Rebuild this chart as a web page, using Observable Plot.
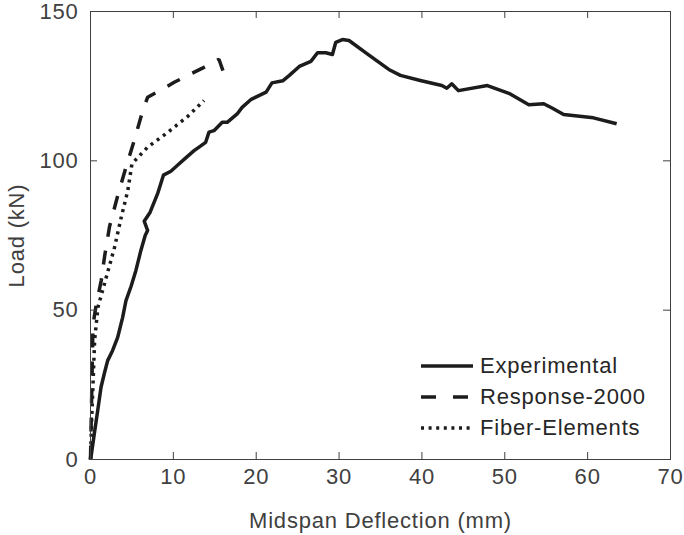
<!DOCTYPE html>
<html>
<head>
<meta charset="utf-8">
<script src="https://cdn.jsdelivr.net/npm/d3@7"></script>
<script src="https://cdn.jsdelivr.net/npm/@observablehq/plot@0.6"></script>
<style>
  html, body { margin: 0; padding: 0; background: #fff; }
  #wrap { position: relative; width: 684px; height: 535px; }
  #legend { position: absolute; left: 421px; top: 350px; font-family: "Liberation Sans", Arial, sans-serif; font-size: 22px; letter-spacing: 0.8px; color: #262626; }
  .row { display: flex; align-items: center; height: 31px; }
  .row svg { width: 52px; height: 10px; margin-right: 7px; }
</style>
</head>
<body>
<div id="wrap"></div>
<script>
// Experimental
const expX = [0, 0.06, 0.46, 0.87, 1.27, 1.66, 2.07, 2.67, 3.28, 3.88, 4.28, 4.9, 5.48, 6.08, 6.6, 6.89, 6.48, 7.2, 8.1, 8.8, 9.7, 10.5, 11.5, 12.5, 13.1, 13.9, 14.3, 14.9, 15.9, 16.5, 17.7, 18.3, 19.4, 21.2, 21.9, 23.2, 24.0, 25.2, 26.6, 27.4, 28.4, 29.2, 29.6, 30.4, 31.2, 33.4, 36.0, 37.4, 39.8, 42.4, 43.0, 43.6, 44.4, 47.9, 50.5, 52.9, 54.7, 55.7, 57.1, 60.7, 63.5];
const expY = [0, 0.8, 8.6, 16.4, 24.2, 28.7, 33.1, 36.5, 40.9, 47.6, 53.2, 58, 63.3, 70, 75, 76.7, 79.8, 82.8, 89, 95.2, 96.5, 98.5, 101, 103.4, 104.6, 106.2, 109.6, 110.1, 112.9, 112.9, 115.7, 117.9, 120.6, 123, 126.1, 126.8, 128.6, 131.6, 133.3, 136.2, 136.2, 135.6, 139.7, 140.6, 140.3, 135.8, 130.6, 128.6, 126.9, 125.2, 124.3, 125.8, 123.5, 125.2, 122.6, 118.8, 119.1, 117.7, 115.5, 114.4, 112.4];
// Response-2000
const r2kX = [0, 0.1, 0.2, 0.3, 0.7, 1.3, 1.7, 2.3, 3.3, 4.3, 5.3, 6.3, 6.9, 8.7, 10.1, 12.1, 13.7, 15.5, 16.1];
const r2kY = [0, 15, 30, 45, 52, 60, 68, 78, 88.5, 98, 107, 116.8, 121.3, 124, 126.3, 129.1, 131.3, 134, 129.3];
// Fiber-Elements
const fibX = [0, 0.1, 0.3, 0.5, 0.9, 1.9, 2.9, 3.7, 4.5, 5.0, 6.9, 9.3, 11.7, 13.7];
const fibY = [0, 10, 25, 40, 51, 61, 71, 81, 90, 99, 104.6, 109.5, 114.8, 120.2];

const xTicks = [0, 10, 20, 30, 40, 50, 60, 70];
const yTicks = [0, 50, 100, 150];
const seriesNames = ["Experimental", "Response-2000", "Fiber-Elements"];
const dashes = [null, "14,14", "3,4.6"];

const toRows = (xs, ys) => xs.map((x, i) => ({x, y: ys[i]}));
const lineColor = "#1c1c1c";
const lw = 3.5;

const chart = Plot.plot({
  width: 684,
  height: 535,
  marginLeft: 90,
  marginRight: 14,
  marginTop: 11,
  marginBottom: 76,
  x: {domain: [0, 70]},
  y: {domain: [0, 150]},
  style: {fontFamily: "Liberation Sans, Arial, sans-serif", fontSize: "22px", color: "#404040", background: "white", overflow: "visible", letterSpacing: "0.8px"},
  marks: [
    Plot.line(toRows(expX, expY), {x: "x", y: "y", stroke: lineColor, strokeWidth: lw, strokeLinecap: "butt", strokeLinejoin: "round"}),
    Plot.line(toRows(r2kX, r2kY), {x: "x", y: "y", stroke: lineColor, strokeWidth: lw, strokeDasharray: dashes[1], strokeLinecap: "butt", strokeLinejoin: "miter"}),
    Plot.line(toRows(fibX, fibY), {x: "x", y: "y", stroke: lineColor, strokeWidth: lw, strokeDasharray: dashes[2], strokeLinecap: "butt", strokeLinejoin: "miter"}),
    Plot.frame({stroke: "#404040", strokeWidth: 1}),
    Plot.tickX(xTicks, {x: d => d, stroke: "#404040", insetTop: 441}),
    Plot.tickX(xTicks, {x: d => d, stroke: "#404040", insetBottom: 441}),
    Plot.tickY(yTicks, {y: d => d, stroke: "#404040", insetRight: 573}),
    Plot.tickY(yTicks, {y: d => d, stroke: "#404040", insetLeft: 573}),
    Plot.axisX(xTicks, {anchor: "bottom", tickSize: 0, tickPadding: 9, label: "Midspan Deflection (mm)", labelAnchor: "center", labelOffset: 68, labelArrow: "none", fill: "#404040"}),
    Plot.axisY(yTicks, {anchor: "left", tickSize: 0, tickPadding: 12, label: "Load (kN)", labelAnchor: "center", labelOffset: 82, labelArrow: "none", fill: "#404040"})
  ]
});
document.getElementById("wrap").appendChild(chart);

// Legend
const legend = document.createElement("div");
legend.id = "legend";
seriesNames.forEach((name, i) => {
  const row = document.createElement("div");
  row.className = "row";
  const dash = dashes[i] ? ` stroke-dasharray="${i === 1 ? '15,17' : '3,4.6'}"` : "";
  row.innerHTML = `<svg viewBox="0 0 52 10"><line x1="0" y1="5" x2="52" y2="5" stroke="${lineColor}" stroke-width="${lw}"${dash}/></svg><span>${name}</span>`;
  legend.appendChild(row);
});
document.getElementById("wrap").appendChild(legend);
</script>
</body>
</html>
